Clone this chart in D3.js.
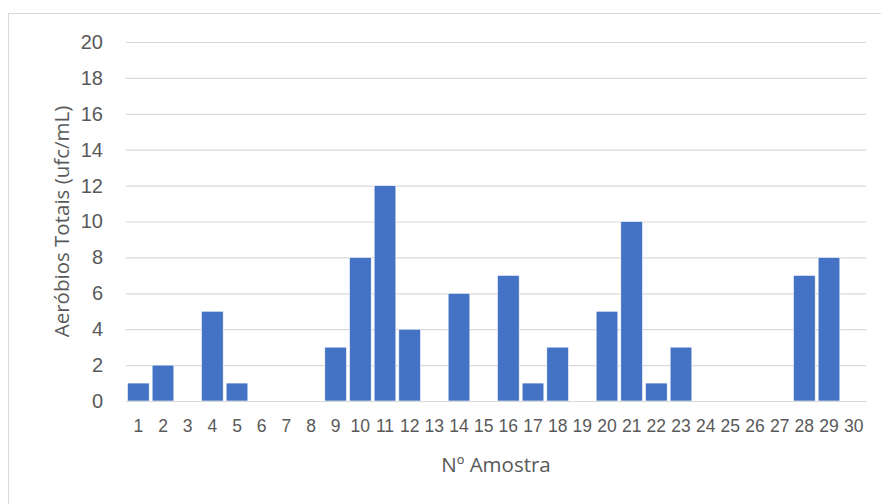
<!DOCTYPE html>
<html>
<head>
<meta charset="utf-8">
<script src="https://cdn.jsdelivr.net/npm/d3@7/dist/d3.min.js"></script>
<style>
  html, body { margin: 0; padding: 0; background: #fff; }
  svg { display: block; font-family: "Open Sans", "Noto Sans", sans-serif; }
</style>
</head>
<body>
<svg id="chart" width="881" height="504"></svg>
<script>
// Amostras 1..30 e contagem de aeróbios totais (ufc/mL)
const samples = d3.range(1, 31).map(String);
const counts = [1, 2, 0, 5, 1, 0, 0, 0, 3, 8, 12, 4, 0, 6, 0, 7, 1, 3, 0, 5, 10, 1, 3, 0, 0, 0, 0, 7, 8, 0];
const yTicks = [0, 2, 4, 6, 8, 10, 12, 14, 16, 18, 20];
const xTitle = "Nº Amostra";
const yTitle = "Aeróbios Totais (ufc/mL)";

const svg = d3.select("#chart");
const W = 881, H = 504;
const margin = { left: 126, right: 15, top: 42, bottom: 103 };
const plotW = W - margin.left - margin.right;
const plotH = H - margin.top - margin.bottom;

// Chart frame
svg.append("rect")
  .attr("x", 8.5).attr("y", 13.5)
  .attr("width", 880).attr("height", 500)
  .attr("fill", "#fff").attr("stroke", "#d9d9d9").attr("stroke-width", 1);

const x = d3.scaleBand().domain(samples).range([0, plotW]).paddingInner(0.12).paddingOuter(0.06);
const y = d3.scaleLinear().domain([0, 20]).range([plotH, 0]);

const g = svg.append("g").attr("transform", `translate(${margin.left},${margin.top})`);

// Horizontal gridlines
g.append("g")
  .call(d3.axisLeft(y).tickValues(yTicks).tickSize(-plotW).tickFormat(""))
  .call(s => s.select(".domain").remove())
  .call(s => s.selectAll("line").attr("stroke", "#d9d9d9").attr("stroke-width", 1.2));

// Y tick labels
g.append("g")
  .call(d3.axisLeft(y).tickValues(yTicks).tickSize(0).tickPadding(23))
  .call(s => s.select(".domain").remove())
  .call(s => s.selectAll("text").attr("fill", "#595959").style("font-size", "20px"));

// Bars
g.selectAll("rect.bar")
  .data(counts)
  .join("rect")
  .attr("class", "bar")
  .attr("x", (d, i) => x(samples[i]))
  .attr("y", d => y(d))
  .attr("width", x.bandwidth())
  .attr("height", d => y(0) - y(d))
  .attr("fill", "#4472c4")
  .attr("stroke", "#ffffff")
  .attr("stroke-width", 0.6);

// Category axis
g.append("g")
  .attr("transform", `translate(0,${plotH})`)
  .call(d3.axisBottom(x).tickSize(0).tickPadding(19))
  .call(s => s.select(".domain").attr("stroke", "#d9d9d9").attr("stroke-width", 1.2))
  .call(s => s.selectAll("text").attr("fill", "#595959").style("font-size", "17.5px"));

// Axis titles
svg.append("text")
  .attr("x", margin.left + plotW / 2)
  .attr("y", 472)
  .attr("text-anchor", "middle")
  .attr("fill", "#595959")
  .style("font-size", "20.5px")
  .text(xTitle);

svg.append("text")
  .attr("transform", `translate(69,${margin.top + plotH / 2}) rotate(-90)`)
  .attr("text-anchor", "middle")
  .attr("fill", "#595959")
  .style("font-size", "20.5px")
  .text(yTitle);
</script>
</body>
</html>
